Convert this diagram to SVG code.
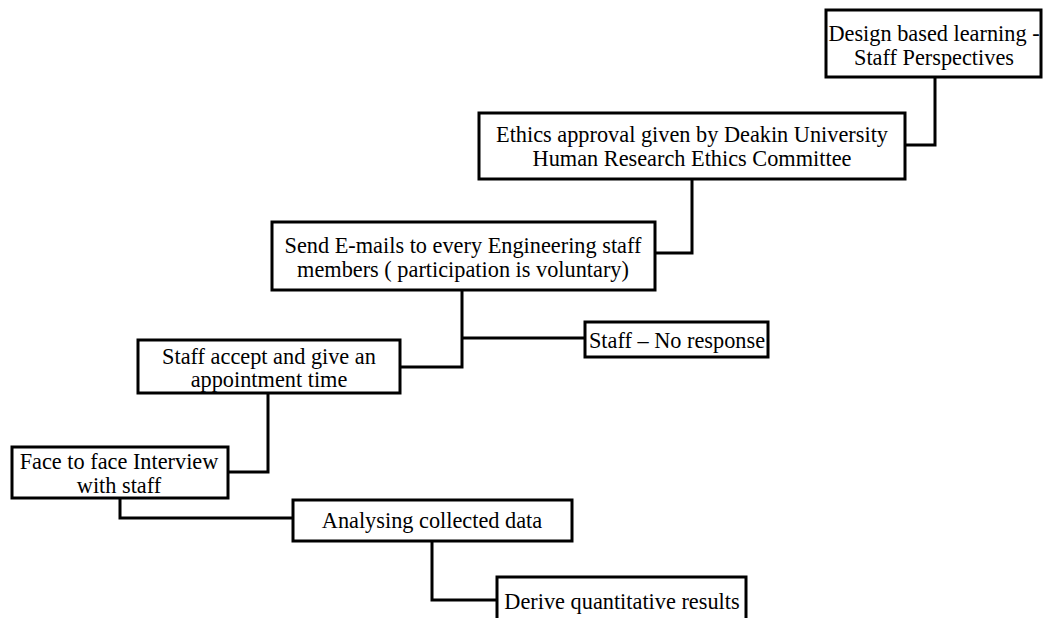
<svg xmlns="http://www.w3.org/2000/svg" width="1043" height="618" viewBox="0 0 1043 618">
<style>
.box{fill:#fff;stroke:#000;stroke-width:3}
.con{fill:none;stroke:#000;stroke-width:3}
text{font-family:"Liberation Serif","Times New Roman",serif;font-size:22.3px;fill:#000;text-anchor:middle}
</style>
<rect width="1043" height="618" fill="#fff"/>
<g id="connectors">
<polyline class="con" points="935,77 935,145 905,145"/>
<polyline class="con" points="692,179 692,253 655,253"/>
<polyline class="con" points="462,290 462,367 400,367"/>
<polyline class="con" points="462,338 585,338"/>
<polyline class="con" points="268,393 268,472 228,472"/>
<polyline class="con" points="120,498 120,518 293,518"/>
<polyline class="con" points="432,541 432,600 497,600"/>
</g>
<g id="n1"><rect class="box" x="826" y="10" width="215" height="67"/>
<text x="934" y="41">Design based learning -</text><text x="934" y="65">Staff Perspectives</text></g>
<g id="n2"><rect class="box" x="479" y="113" width="426" height="66"/>
<text x="692" y="142">Ethics approval given by Deakin University</text><text x="692" y="166">Human Research Ethics Committee</text></g>
<g id="n3"><rect class="box" x="272" y="222" width="383" height="68"/>
<text x="463" y="253">Send E-mails to every Engineering staff</text><text x="463" y="277">members ( participation is voluntary)</text></g>
<g id="n4"><rect class="box" x="585" y="322" width="183" height="35"/>
<text x="677" y="348">Staff – No response</text></g>
<g id="n5"><rect class="box" x="138" y="340" width="262" height="53"/>
<text x="269" y="364">Staff accept and give an</text><text x="269" y="387">appointment time</text></g>
<g id="n6"><rect class="box" x="12" y="447" width="216" height="51"/>
<text x="119" y="469">Face to face Interview</text><text x="119" y="493">with staff</text></g>
<g id="n7"><rect class="box" x="293" y="500" width="279" height="41"/>
<text x="432" y="528">Analysing collected data</text></g>
<g id="n8"><rect class="box" x="497" y="577" width="249" height="50"/>
<text x="622" y="609">Derive quantitative results</text></g>
</svg>
